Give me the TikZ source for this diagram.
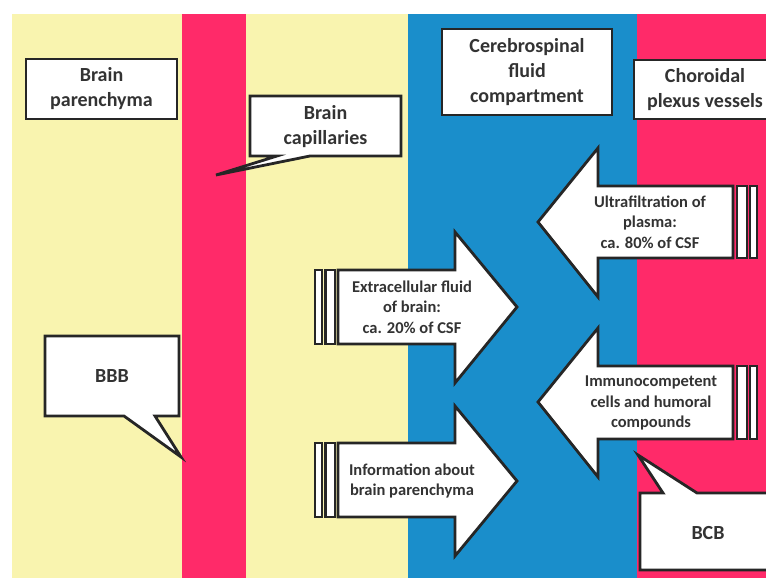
\documentclass[tikz,border=0pt]{standalone}
\usepackage{fontspec}
\setmainfont{Carlito}
\usepackage{tikz}

\definecolor{paryellow}{HTML}{F9F4AF}
\definecolor{vesred}{HTML}{FF2A69}
\definecolor{csfblue}{HTML}{1A8ECB}
\definecolor{edge}{HTML}{262626}
\definecolor{txt}{HTML}{333333}

\begin{document}
\begin{tikzpicture}[x=1pt,y=-1pt,
    box/.style={draw=edge,fill=white,line width=2.8pt,align=center,text=txt,font=\bfseries\fontsize{20}{25}\selectfont},
    shp/.style={draw=edge,fill=white,line width=2.8pt},
    big/.style={align=center,text=txt,font=\bfseries\fontsize{20}{25}\selectfont},
    small/.style={align=center,text=txt,font=\bfseries\fontsize{16.5}{20.5}\selectfont}
]
\useasboundingbox (0,0) rectangle (766,578);
\clip (0,0) rectangle (766,578);

% compartments
\fill[paryellow] (12,14) rectangle (766,578);
\fill[vesred] (182,14) rectangle (246,578);
\fill[csfblue] (408,14) rectangle (637,578);
\fill[vesred] (637,14) rectangle (766,578);

% titles
\node[box,minimum width=151pt,minimum height=60pt] (par) at (101.5,89) {Brain\\parenchyma};
\node[box,minimum width=170pt,minimum height=86pt] (csf) at (527,72) {Cerebrospinal\\fluid\\compartment};
\node[box,minimum width=142pt,minimum height=59pt] (cpv) at (705,89.5) {Choroidal\\plexus vessels};

% callouts
\draw[shp] (250,96) -- (401,96) -- (401,156) -- (310,156) -- (216,175) -- (277,156) -- (250,156) -- cycle;
\node[big] (cap) at (325.5,127) {Brain\\capillaries};

\draw[shp] (45,336) -- (179,336) -- (179,416) -- (155,416) -- (181,457) -- (124,416) -- (45,416) -- cycle;
\node[big] (bbb) at (112,376) {BBB};

\draw[shp] (640,493) -- (663,493) -- (638,455) -- (697,493) -- (780,493) -- (780,570) -- (640,570) -- cycle;
\node[big] (bcb) at (708,533) {BCB};

% arrows into CSF from brain
\draw[shp] (338,270) -- (455,270) -- (455,232) -- (517,307) -- (455,383) -- (455,344) -- (338,344) -- cycle;
\draw[shp] (315,270) rectangle (322,344);
\draw[shp] (325.5,270) rectangle (335,344);
\node[small] (ecf) at (412,307) {Extracellular fluid\\of brain:\\ca. 20\% of CSF};

\draw[shp] (338,443) -- (455,443) -- (455,406) -- (517,481) -- (455,556) -- (455,517) -- (338,517) -- cycle;
\draw[shp] (315,443) rectangle (322,517);
\draw[shp] (325.5,443) rectangle (335,517);
\node[small] (info) at (412,481) {Information about\\brain parenchyma};

% arrows into CSF from plexus
\draw[shp] (733,186) -- (598,186) -- (598,148) -- (538,222) -- (598,297) -- (598,258) -- (733,258) -- cycle;
\draw[shp] (737,186) rectangle (747,258);
\draw[shp] (750,186) rectangle (757,258);
\node[small] (ultra) at (650,222) {Ultrafiltration of\\plasma:\\ca. 80\% of CSF};

\draw[shp] (733,366) -- (598,366) -- (598,328) -- (538,402) -- (598,477) -- (598,439) -- (733,439) -- cycle;
\draw[shp] (737,366) rectangle (747,439);
\draw[shp] (750,366) rectangle (757,439);
\node[small] (immu) at (651,403) {Immunocompetent\\cells and humoral\\compounds};
\end{tikzpicture}
\end{document}
